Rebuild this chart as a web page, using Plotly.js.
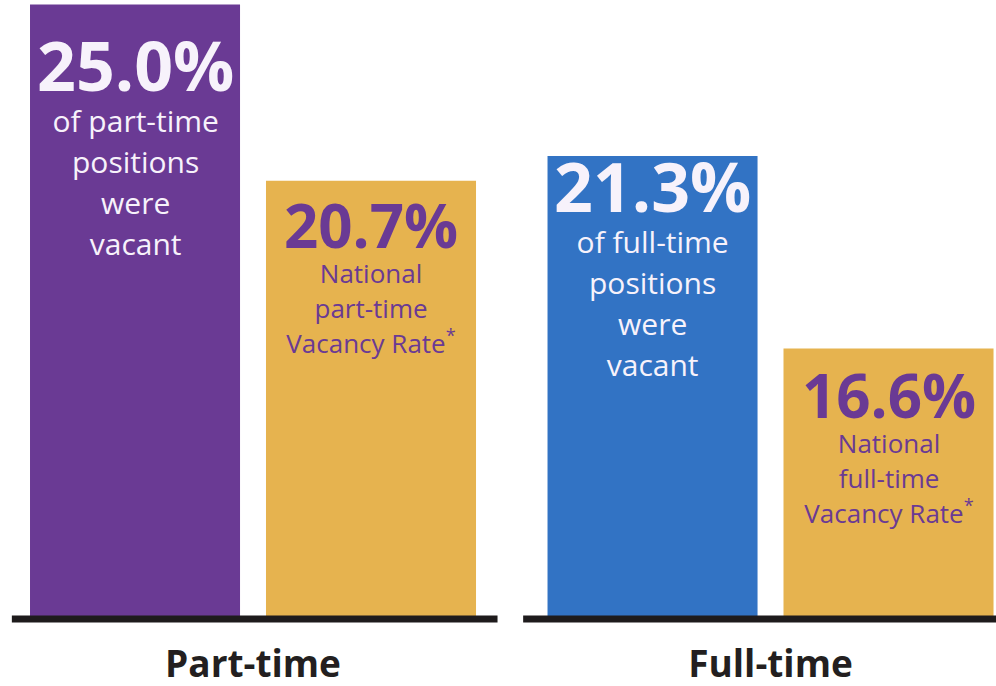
<!DOCTYPE html>
<html>
<head>
<meta charset="utf-8">
<script src="https://cdn.plot.ly/plotly-3.0.1.min.js"></script>
<style>html,body{margin:0;padding:0;background:#fff;}#chart{width:996px;height:686px;}</style>
</head>
<body>
<div id="chart"></div>
<script>
// ---- data ----
const categories = ['Part-time', 'Full-time'];
const vacantValues = [25.0, 21.3];
const nationalValues = [20.7, 16.6];
const vacantLabels = ['of part-time<br>positions<br>were<br>vacant', 'of full-time<br>positions<br>were<br>vacant'];
const nationalLabels = ['National<br>part-time<br>Vacancy Rate<sup>*</sup>', 'National<br>full-time<br>Vacancy Rate<sup>*</sup>'];

// ---- style ----
const PURPLE = '#6A3A94';
const BLUE = '#3273C4';
const GOLD = '#E6B34F';
const vacantColors = [PURPLE, BLUE];
const BARGAP = 0.088;
const GROUPGAP = 0.11;
const FONT = '"Open Sans", Lato, sans-serif';
const vacantShift = [-11, 19];
const nationalShift = [-1, -3];

const traces = [
  {type: 'bar', x: categories, y: vacantValues, marker: {color: vacantColors}, hoverinfo: 'skip', showlegend: false},
  {type: 'bar', x: categories, y: nationalValues, marker: {color: GOLD}, hoverinfo: 'skip', showlegend: false}
];

function block(bigText, bigSize, lines, smallSize) {
  return '<span style="font-size:' + bigSize + 'px"><b>' + bigText + '</b></span>' +
    lines.split('<br>').map(l => '<br><span style="font-size:' + smallSize + 'px">' + l + '</span>').join('');
}

const off = (1 - BARGAP) / 4;
const annotations = [];
categories.forEach((c, i) => {
  annotations.push({
    x: i - off, xref: 'x', y: vacantValues[i], yref: 'y', yanchor: 'top', xanchor: 'center',
    yshift: vacantShift[i], showarrow: false, align: 'center',
    font: {family: FONT, size: 31.5, color: '#F7F2FB'},
    text: block(vacantValues[i].toFixed(1) + '%', 68, vacantLabels[i], 30)
  });
  annotations.push({
    x: i + off, xref: 'x', y: nationalValues[i], yref: 'y', yanchor: 'top', xanchor: 'center',
    yshift: nationalShift[i], showarrow: false, align: 'center',
    font: {family: FONT, size: 27, color: PURPLE},
    text: block(nationalValues[i].toFixed(1) + '%', 60, nationalLabels[i], 26)
  });
});

const shapes = categories.map((c, i) => ({
  type: 'line', xref: 'x', yref: 'paper', x0: i - (i === 0 ? 0.466 : 0.478), x1: i + 0.4725, y0: 0, y1: 0,
  line: {color: '#1E1B1C', width: 7}, layer: 'above'
}));

const layout = {
  width: 996, height: 686,
  margin: {l: 0, r: 0, t: 0, b: 67},
  paper_bgcolor: '#ffffff', plot_bgcolor: '#ffffff',
  barmode: 'group', bargap: BARGAP, bargroupgap: GROUPGAP,
  xaxis: {
    type: 'category', range: [-0.4889, 1.4357], showgrid: false, zeroline: false, showline: false,
    ticks: '', tickfont: {family: FONT, size: 37, color: '#231F20', weight: 'bold'},
    ticklabelstandoff: 20, fixedrange: true
  },
  yaxis: {range: [10, 25.11], visible: false, showgrid: false, zeroline: false, fixedrange: true},
  annotations: annotations,
  shapes: shapes,
  showlegend: false
};

Plotly.newPlot('chart', traces, layout, {staticPlot: true, displayModeBar: false});
</script>
</body>
</html>
